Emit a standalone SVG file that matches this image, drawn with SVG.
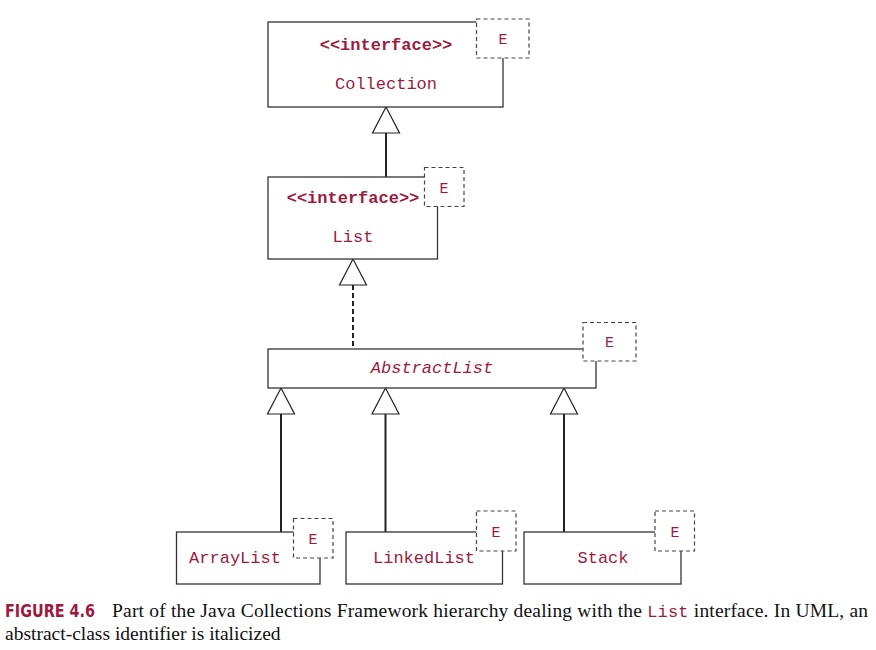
<svg xmlns="http://www.w3.org/2000/svg" width="876" height="650" viewBox="0 0 876 650">
<style>
.box{fill:#fff;stroke:#333;stroke-width:1.3}
.e{fill:#fff;stroke:#444;stroke-width:1.2;stroke-dasharray:4 3}
.t{font-family:"Liberation Mono","DejaVu Sans Mono",monospace;font-size:17px;fill:#9e1a3e;text-anchor:middle}
.b{font-weight:bold}
.i{font-style:italic}
.et{font-family:"Liberation Mono","DejaVu Sans Mono",monospace;font-size:15px;fill:#9e1a3e;text-anchor:middle}
.ln{stroke:#222;stroke-width:2;fill:none}
.tri{fill:#fff;stroke:#222;stroke-width:1.2}
.cap{font-family:"Liberation Serif","Times New Roman",serif;font-size:19.5px;fill:#111}
</style>
<rect width="876" height="650" fill="#fff"/>
<g id="connectors">
<line class="ln" x1="386" y1="133" x2="386" y2="177"/>
<polygon class="tri" points="386,107 372.5,133 399.5,133"/>
<line class="ln" x1="353" y1="285" x2="353" y2="349" stroke-dasharray="5 3"/>
<polygon class="tri" points="353,259 339.5,285 366.5,285"/>
<line class="ln" x1="281" y1="414" x2="281" y2="532"/>
<polygon class="tri" points="281,388 267.5,414 294.5,414"/>
<line class="ln" x1="385.5" y1="414" x2="385.5" y2="532"/>
<polygon class="tri" points="385.5,388 372,414 399,414"/>
<line class="ln" x1="564" y1="414" x2="564" y2="532"/>
<polygon class="tri" points="564,388 550.5,414 577.5,414"/>
</g>
<g id="collection">
<rect class="box" x="268" y="22" width="235" height="85"/>
<rect class="e" x="476.5" y="19" width="52.5" height="39"/>
<text class="et" x="503" y="44">E</text>
<text class="t b" x="386" y="50">&lt;&lt;interface&gt;&gt;</text>
<text class="t" x="386" y="89">Collection</text>
</g>
<g id="list">
<rect class="box" x="268" y="177" width="169.5" height="82"/>
<rect class="e" x="424.5" y="167.5" width="39.5" height="39"/>
<text class="et" x="444" y="192.5">E</text>
<text class="t b" x="353" y="203">&lt;&lt;interface&gt;&gt;</text>
<text class="t" x="353" y="242">List</text>
</g>
<g id="abstractlist">
<rect class="box" x="268" y="349" width="328" height="39"/>
<rect class="e" x="583" y="322.5" width="53" height="38.5"/>
<text class="et" x="609.5" y="347">E</text>
<text class="t i" x="432" y="373">AbstractList</text>
</g>
<g id="arraylist">
<rect class="box" x="176.5" y="532" width="143.5" height="52"/>
<rect class="e" x="293.5" y="518.5" width="39.5" height="39.5"/>
<text class="et" x="313" y="544">E</text>
<text class="t" x="235" y="563">ArrayList</text>
</g>
<g id="linkedlist">
<rect class="box" x="346" y="532" width="156.5" height="52"/>
<rect class="e" x="476.5" y="511" width="39.5" height="40"/>
<text class="et" x="496" y="536.5">E</text>
<text class="t" x="424" y="563">LinkedList</text>
</g>
<g id="stack">
<rect class="box" x="524" y="532" width="157" height="52"/>
<rect class="e" x="655" y="511" width="39.5" height="40"/>
<text class="et" x="675" y="536.5">E</text>
<text class="t" x="603" y="563">Stack</text>
</g>
<g id="caption">
<text x="5" y="617" font-family="'Liberation Sans Narrow','DejaVu Sans Condensed','Liberation Sans',sans-serif" font-weight="bold" font-size="17" fill="#a0183c" textLength="90" lengthAdjust="spacingAndGlyphs">FIGURE 4.6</text>
<text class="cap" x="112" y="617" textLength="756">Part of the Java Collections Framework hierarchy dealing with the <tspan font-family="'Liberation Mono',monospace" font-size="17" fill="#9e1a3e">List</tspan> interface. In UML, an</text>
<text class="cap" x="5" y="640">abstract-class identifier is italicized</text>
</g>
</svg>
